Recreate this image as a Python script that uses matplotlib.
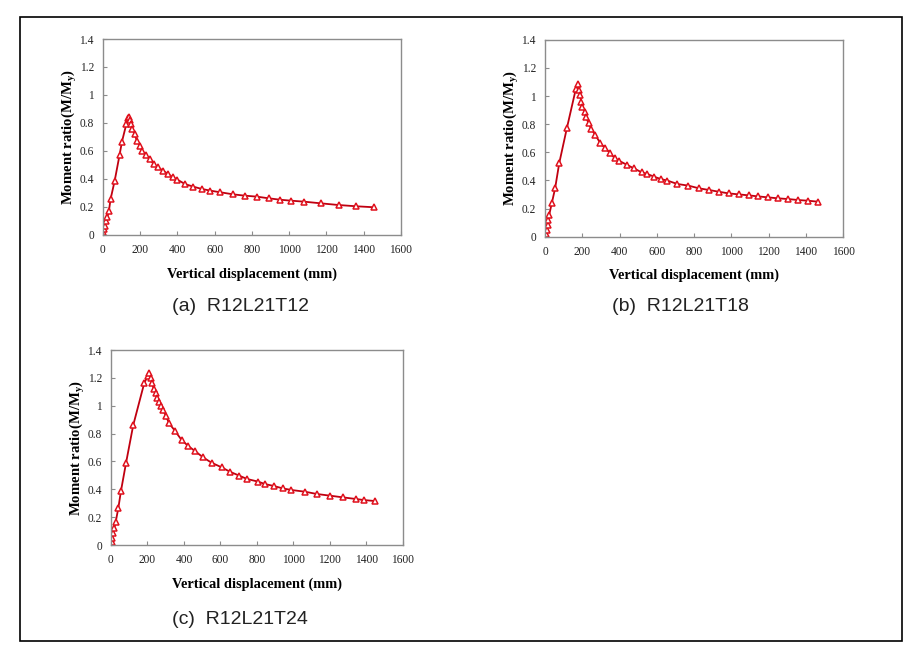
import matplotlib.pyplot as plt
from matplotlib.patches import Rectangle

# (a) R12L21T12
disp_a = [0, 2, 5, 9, 14, 23, 32, 41, 63, 89, 102, 125, 134, 140,
          143, 148, 157, 170, 182, 197, 211, 229, 250, 272, 295, 322, 349,
          375, 400, 440, 485, 530, 575, 630, 700, 760, 825, 890, 950,
          1010, 1080, 1170, 1265, 1360, 1455]
moment_a = [0, 0.02, 0.043, 0.067, 0.10, 0.126, 0.174, 0.257, 0.388, 0.571, 0.667, 0.79, 0.835, 0.845,
            0.82, 0.79, 0.757, 0.72, 0.674, 0.638, 0.60, 0.571, 0.543, 0.507, 0.483, 0.46, 0.436,
            0.412, 0.395, 0.364, 0.345, 0.329, 0.317, 0.305, 0.29, 0.281, 0.274, 0.262, 0.252,
            0.245, 0.238, 0.226, 0.214, 0.205, 0.198]

# (b) R12L21T18
disp_b = [0, 3, 9, 14, 18, 22, 36, 54, 76, 117, 165, 176,
          183, 189, 194, 201, 212, 219, 234, 248, 270, 297, 324, 351, 374, 396,
          441, 477, 518, 549, 585, 621, 657, 710, 770, 827, 881, 932, 986,
          1040, 1094, 1142, 1196, 1250, 1304, 1358, 1412, 1466]
moment_b = [0, 0.02, 0.047, 0.083, 0.119, 0.154, 0.237, 0.344, 0.522, 0.771, 1.049, 1.084,
            1.044, 1.009, 0.961, 0.925, 0.89, 0.85, 0.807, 0.766, 0.724, 0.664, 0.629, 0.593, 0.558, 0.541,
            0.51, 0.486, 0.458, 0.446, 0.427, 0.41, 0.399, 0.375, 0.363, 0.344, 0.332, 0.32, 0.308,
            0.301, 0.294, 0.287, 0.28, 0.273, 0.268, 0.261, 0.256, 0.249]

# (c) R12L21T24
disp_c = [0, 4, 7, 13, 18, 26, 40, 55, 82, 122, 182, 201, 210,
          217, 226, 235, 245, 254, 263, 274, 286, 301, 319, 350, 387, 423,
          460, 505, 551, 606, 652, 703, 746, 807, 843, 892, 940, 989,
          1062, 1130, 1203, 1272, 1345, 1385, 1445]
moment_c = [0, 0.024, 0.048, 0.084, 0.12, 0.168, 0.263, 0.39, 0.586, 0.861, 1.161, 1.213, 1.235,
            1.201, 1.161, 1.117, 1.089, 1.058, 1.029, 0.998, 0.969, 0.926, 0.873, 0.821, 0.754, 0.711,
            0.675, 0.629, 0.591, 0.558, 0.526, 0.498, 0.474, 0.455, 0.438, 0.424, 0.407, 0.395,
            0.383, 0.366, 0.354, 0.342, 0.33, 0.323, 0.316]

captions = ["(a)  R12L21T12", "(b)  R12L21T18", "(c)  R12L21T24"]
xticks = [0, 200, 400, 600, 800, 1000, 1200, 1400, 1600]
yticks = [0, 0.2, 0.4, 0.6, 0.8, 1, 1.2, 1.4]
ytick_labels = ['0', '0.2', '0.4', '0.6', '0.8', '1', '1.2', '1.4']

fig = plt.figure(figsize=(9.21, 6.5), dpi=100)

# outer frame
fig.patches.append(Rectangle((0.0217, 0.0138), 0.9577, 0.96, transform=fig.transFigure,
                             fill=False, edgecolor='black', linewidth=1.2))

positions = [
    [0.1118, 0.6385, 0.3236, 0.3015],
    [0.5918, 0.6358, 0.3236, 0.3030],
    [0.1205, 0.1615, 0.3170, 0.3000],
]
caption_xy = [(172, 306), (612, 306), (172, 619)]

for pos, xs, ys, cap, cxy in zip(positions, [disp_a, disp_b, disp_c],
                                 [moment_a, moment_b, moment_c], captions, caption_xy):
    ax = fig.add_axes(pos)
    ax.plot(xs, ys, color='#c00010', linewidth=1.3, marker='^', markersize=4.8,
            markerfacecolor='white', markeredgecolor='#e0101c', markeredgewidth=1.1)
    ax.set_xlim(0, 1600)
    ax.set_ylim(0, 1.4)
    ax.set_xticks(xticks)
    ax.set_yticks(yticks)
    ax.set_xticklabels([str(t) for t in xticks])
    ax.set_yticklabels(ytick_labels)
    for s in ax.spines.values():
        s.set_color('#8c8c8c')
        s.set_linewidth(1.0)
    ax.tick_params(direction='in', length=3, width=0.8, color='#8c8c8c',
                   labelsize=8.3, labelcolor='#222222', pad=6.5)
    for lab in ax.get_xticklabels() + ax.get_yticklabels():
        lab.set_family('Liberation Serif')
    ax.set_xlabel('Vertical displacement (mm)', family='Liberation Serif',
                  fontweight='bold', fontsize=10.4, labelpad=8)
    ax.set_ylabel(r'Moment ratio(M/M$_\mathregular{y}$)', family='Liberation Serif',
                  fontweight='bold', fontsize=10.6)
    w_px = pos[2] * 921
    ax.yaxis.set_label_coords(-24 / w_px, 0.5)
    fig.text(cxy[0] / 921, 1 - cxy[1] / 650, cap, family='Liberation Sans',
             fontsize=14, ha='left', va='center', color='#222222')

fig.savefig('out.png', dpi=100)
